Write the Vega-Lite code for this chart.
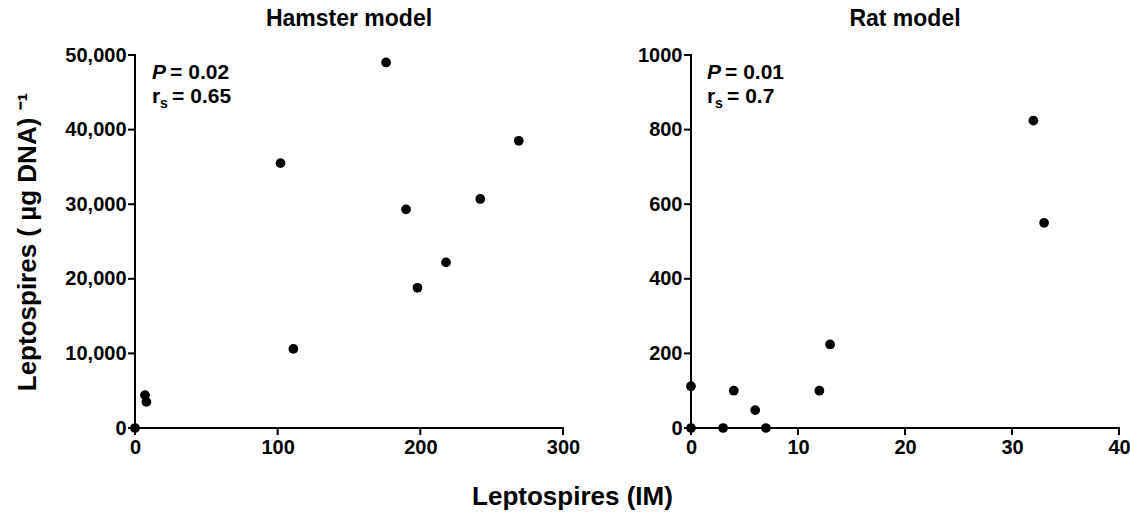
{
  "$schema": "https://vega.github.io/schema/vega-lite/v6.json",
  "padding": {"left": 14, "top": 8, "right": 0, "bottom": 5},
  "background": "white",
  "config": {
    "font": "Liberation Sans",
    "view": {"stroke": null},
    "axis": {
      "domain": true, "ticks": true, "domainOpacity": 0, "tickOpacity": 0,
      "domainColor": "#000000", "domainWidth": 2, "tickColor": "#000000", "tickWidth": 2, "tickSize": 7,
      "grid": false, "labelFont": "Liberation Sans", "labelFontWeight": "bold", "labelFontSize": 20,
      "labelColor": "black", "labelPadding": 2, "titleFont": "Liberation Sans", "titleFontWeight": "bold",
      "titleFontSize": 26, "titleColor": "black", "labelFlush": false, "labelOverlap": false
    },
    "title": {"font": "Liberation Sans", "fontSize": 23, "fontWeight": "bold", "color": "black"},
    "concat": {"spacing": 57}
  },
  "title": {"text": "Leptospires (IM)", "orient": "bottom", "anchor": "middle", "fontSize": 26, "offset": 27},
  "datasets": {
    "one": [{}],
    "hamster": [
      {"im": 0, "dna": 0}, {"im": 7, "dna": 4400}, {"im": 8, "dna": 3500}, {"im": 102, "dna": 35500},
      {"im": 111, "dna": 10600}, {"im": 176, "dna": 49000}, {"im": 190, "dna": 29300}, {"im": 198, "dna": 18800},
      {"im": 218, "dna": 22200}, {"im": 242, "dna": 30700}, {"im": 269, "dna": 38500}
    ],
    "rat": [
      {"im": 0, "dna": 112}, {"im": 0, "dna": 0}, {"im": 3, "dna": 0}, {"im": 4, "dna": 100},
      {"im": 6, "dna": 48}, {"im": 7, "dna": 0}, {"im": 12, "dna": 100}, {"im": 13, "dna": 224},
      {"im": 32, "dna": 824}, {"im": 33, "dna": 550}
    ],
    "hamster_xticks": [{"v": 0}, {"v": 100}, {"v": 200}, {"v": 300}],
    "hamster_yticks": [{"v": 0}, {"v": 10000}, {"v": 20000}, {"v": 30000}, {"v": 40000}, {"v": 50000}],
    "rat_xticks": [{"v": 0}, {"v": 10}, {"v": 20}, {"v": 30}, {"v": 40}],
    "rat_yticks": [{"v": 0}, {"v": 200}, {"v": 400}, {"v": 600}, {"v": 800}, {"v": 1000}]
  },
  "hconcat": [
    {
      "width": 428, "height": 373,
      "title": {"text": "Hamster model", "offset": 14},
      "layer": [
        {
          "data": {"name": "hamster_xticks"},
          "mark": {"type": "tick", "orient": "vertical", "size": 7, "thickness": 2, "color": "black", "opacity": 1, "yOffset": 3.5, "clip": false},
          "encoding": {"x": {"field": "v", "type": "quantitative"}, "y": {"datum": 0}}
        },
        {
          "data": {"name": "hamster_yticks"},
          "mark": {"type": "tick", "orient": "horizontal", "size": 7, "thickness": 2, "color": "black", "opacity": 1, "xOffset": -3.5, "clip": false},
          "encoding": {"y": {"field": "v", "type": "quantitative"}, "x": {"datum": 0}}
        },
        {
          "data": {"name": "one"},
          "mark": {"type": "rect", "color": "black", "opacity": 1, "height": 2, "xOffset": -1, "x2Offset": 1, "clip": false},
          "encoding": {"x": {"datum": 0}, "x2": {"datum": 300}, "y": {"datum": 0}}
        },
        {
          "data": {"name": "one"},
          "mark": {"type": "rect", "color": "black", "opacity": 1, "width": 2, "yOffset": 1, "y2Offset": -1, "clip": false},
          "encoding": {"x": {"datum": 0}, "y": {"datum": 0}, "y2": {"datum": 50000}}
        },
        {
          "data": {"name": "hamster"},
          "mark": {"type": "point", "filled": true, "color": "black", "size": 95, "opacity": 1, "clip": false},
          "encoding": {
            "x": {"field": "im", "type": "quantitative", "scale": {"domain": [0, 300], "nice": false},
                  "axis": {"values": [0, 100, 200, 300], "title": null}},
            "y": {"field": "dna", "type": "quantitative", "scale": {"domain": [0, 50000], "nice": false},
                  "axis": {"values": [0, 10000, 20000, 30000, 40000, 50000], "format": ",d", "title": "Leptospires ( µg DNA) ⁻¹", "titlePadding": 24}}
          }
        },
        {
          "data": {"name": "one"},
          "mark": {"type": "text", "text": "P", "fontStyle": "italic", "fontWeight": "bold", "fontSize": 21, "align": "left", "baseline": "alphabetic", "color": "black"},
          "encoding": {"x": {"datum": 12}, "y": {"datum": 46800}}
        },
        {
          "data": {"name": "one"},
          "mark": {"type": "text", "text": "= 0.02", "fontWeight": "bold", "fontSize": 21, "align": "left", "baseline": "alphabetic", "dx": 18, "color": "black"},
          "encoding": {"x": {"datum": 12}, "y": {"datum": 46800}}
        },
        {
          "data": {"name": "one"},
          "mark": {"type": "text", "text": "r", "fontWeight": "bold", "fontSize": 21, "align": "left", "baseline": "alphabetic", "color": "black"},
          "encoding": {"x": {"datum": 12}, "y": {"datum": 43600}}
        },
        {
          "data": {"name": "one"},
          "mark": {"type": "text", "text": "s", "fontWeight": "bold", "fontSize": 14, "align": "left", "baseline": "alphabetic", "dx": 8, "dy": 5, "color": "black"},
          "encoding": {"x": {"datum": 12}, "y": {"datum": 43600}}
        },
        {
          "data": {"name": "one"},
          "mark": {"type": "text", "text": "= 0.65", "fontWeight": "bold", "fontSize": 21, "align": "left", "baseline": "alphabetic", "dx": 20, "color": "black"},
          "encoding": {"x": {"datum": 12}, "y": {"datum": 43600}}
        }
      ]
    },
    {
      "width": 428, "height": 373,
      "title": {"text": "Rat model", "offset": 14},
      "layer": [
        {
          "data": {"name": "rat_xticks"},
          "mark": {"type": "tick", "orient": "vertical", "size": 7, "thickness": 2, "color": "black", "opacity": 1, "yOffset": 3.5, "clip": false},
          "encoding": {"x": {"field": "v", "type": "quantitative"}, "y": {"datum": 0}}
        },
        {
          "data": {"name": "rat_yticks"},
          "mark": {"type": "tick", "orient": "horizontal", "size": 7, "thickness": 2, "color": "black", "opacity": 1, "xOffset": -3.5, "clip": false},
          "encoding": {"y": {"field": "v", "type": "quantitative"}, "x": {"datum": 0}}
        },
        {
          "data": {"name": "one"},
          "mark": {"type": "rect", "color": "black", "opacity": 1, "height": 2, "xOffset": -1, "x2Offset": 1, "clip": false},
          "encoding": {"x": {"datum": 0}, "x2": {"datum": 40}, "y": {"datum": 0}}
        },
        {
          "data": {"name": "one"},
          "mark": {"type": "rect", "color": "black", "opacity": 1, "width": 2, "yOffset": 1, "y2Offset": -1, "clip": false},
          "encoding": {"x": {"datum": 0}, "y": {"datum": 0}, "y2": {"datum": 1000}}
        },
        {
          "data": {"name": "rat"},
          "mark": {"type": "point", "filled": true, "color": "black", "size": 95, "opacity": 1, "clip": false},
          "encoding": {
            "x": {"field": "im", "type": "quantitative", "scale": {"domain": [0, 40], "nice": false},
                  "axis": {"values": [0, 10, 20, 30, 40], "title": null}},
            "y": {"field": "dna", "type": "quantitative", "scale": {"domain": [0, 1000], "nice": false},
                  "axis": {"values": [0, 200, 400, 600, 800, 1000], "format": "d", "title": null}}
          }
        },
        {
          "data": {"name": "one"},
          "mark": {"type": "text", "text": "P", "fontStyle": "italic", "fontWeight": "bold", "fontSize": 21, "align": "left", "baseline": "alphabetic", "color": "black"},
          "encoding": {"x": {"datum": 1.5}, "y": {"datum": 936}}
        },
        {
          "data": {"name": "one"},
          "mark": {"type": "text", "text": "= 0.01", "fontWeight": "bold", "fontSize": 21, "align": "left", "baseline": "alphabetic", "dx": 18, "color": "black"},
          "encoding": {"x": {"datum": 1.5}, "y": {"datum": 936}}
        },
        {
          "data": {"name": "one"},
          "mark": {"type": "text", "text": "r", "fontWeight": "bold", "fontSize": 21, "align": "left", "baseline": "alphabetic", "color": "black"},
          "encoding": {"x": {"datum": 1.5}, "y": {"datum": 871}}
        },
        {
          "data": {"name": "one"},
          "mark": {"type": "text", "text": "s", "fontWeight": "bold", "fontSize": 14, "align": "left", "baseline": "alphabetic", "dx": 8, "dy": 5, "color": "black"},
          "encoding": {"x": {"datum": 1.5}, "y": {"datum": 871}}
        },
        {
          "data": {"name": "one"},
          "mark": {"type": "text", "text": "= 0.7", "fontWeight": "bold", "fontSize": 21, "align": "left", "baseline": "alphabetic", "dx": 20, "color": "black"},
          "encoding": {"x": {"datum": 1.5}, "y": {"datum": 871}}
        }
      ]
    }
  ]
}
